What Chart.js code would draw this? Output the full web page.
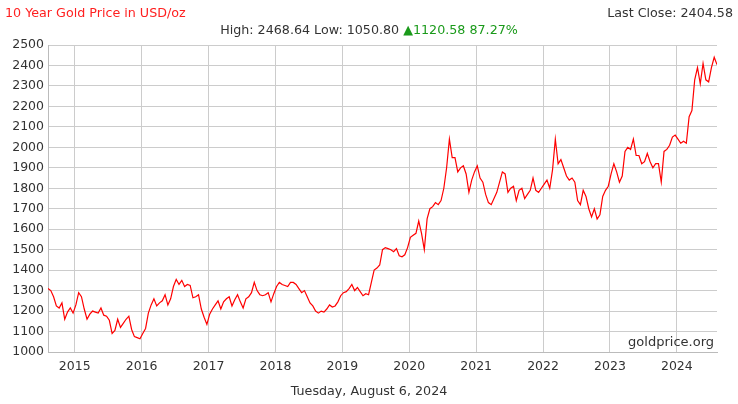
<!DOCTYPE html>
<html>
<head>
<meta charset="utf-8">
<script src="https://cdn.jsdelivr.net/npm/chart.js@4"></script>
<style>
  body { margin: 0; background: #fff; }
  #wrap { width: 738px; height: 404px; position: relative; }
</style>
</head>
<body>
<div id="wrap"><canvas id="c" width="738" height="404"></canvas></div>
<script>
// half-month closing prices, Aug 2014 .. Aug 2024
const prices = [
  1310, 1300, 1270, 1225, 1215, 1240, 1160, 1195, 1215, 1190,
  1230, 1290, 1270, 1210, 1160, 1185, 1200, 1195, 1190, 1215, 1180, 1175,
  1155, 1090, 1105, 1160, 1120, 1140, 1160, 1175, 1110, 1075, 1070, 1065,
  1090, 1115, 1190, 1230, 1260, 1225, 1240, 1250, 1280, 1230, 1260, 1320,
  1355, 1330, 1350, 1320, 1330, 1325, 1265, 1270, 1280, 1210, 1170, 1135,
  1185, 1210, 1230, 1250, 1210, 1245, 1260, 1270, 1225, 1255, 1280, 1245,
  1215, 1260, 1270, 1290, 1340, 1300, 1280, 1275, 1280, 1290, 1245, 1285,
  1320, 1340, 1330, 1325, 1320, 1340, 1340, 1330, 1310, 1290, 1300, 1270,
  1240, 1225, 1200, 1190, 1200, 1195, 1210, 1230, 1220, 1225, 1245, 1275,
  1290, 1295, 1310, 1330, 1300, 1315, 1295, 1275, 1285, 1280, 1340, 1400,
  1410, 1425, 1500, 1510, 1505, 1500, 1490, 1505, 1470, 1465, 1475, 1510,
  1560, 1570, 1580, 1640, 1580, 1500, 1650, 1700, 1710, 1730, 1720, 1740,
  1800, 1900, 2040, 1950, 1950, 1880, 1900, 1910, 1870, 1780, 1840, 1880,
  1910, 1850, 1830, 1770, 1730, 1720, 1750, 1780, 1830, 1880, 1870, 1780,
  1800, 1810, 1740, 1790, 1800, 1750, 1770, 1790, 1850, 1790, 1780, 1800,
  1820, 1840, 1800, 1890, 2040, 1920, 1940, 1900, 1860, 1840, 1850, 1830,
  1740, 1720, 1790, 1760, 1700, 1660, 1700, 1650, 1670, 1760, 1790, 1810,
  1870, 1920, 1880, 1830, 1860, 1980, 2000, 1990, 2040, 1960, 1960, 1920,
  1930, 1970, 1930, 1900, 1920, 1920, 1830, 1980, 1990, 2010, 2050, 2060,
  2040, 2020, 2030, 2020, 2150, 2180, 2330, 2390, 2310, 2410, 2330, 2320,
  2390, 2440, 2404
];
const startYear = 2014.6;
const yearTicks = [2015, 2016, 2017, 2018, 2019, 2020, 2021, 2022, 2023, 2024];
const title = '10 Year Gold Price in USD/oz';
const lastClose = 'Last Close: 2404.58';
const highLow = 'High: 2468.64 Low: 1050.80 ';
const change = '\u25B21120.58 87.27%';
const dateText = 'Tuesday, August 6, 2024';

const points = prices.map((p, i) => ({ x: startYear + i / 24, y: p }));
const font = 'DejaVu Sans';

const textPlugin = {
  id: 'texts',
  afterDraw(chart) {
    const ctx = chart.ctx;
    const a = chart.chartArea;
    ctx.save();
    ctx.font = '12.7px ' + font;
    ctx.textBaseline = 'middle';
    ctx.fillStyle = '#ff2020';
    ctx.textAlign = 'left';
    ctx.fillText(title, 5, 14);
    ctx.fillStyle = '#333';
    ctx.textAlign = 'right';
    ctx.fillText(lastClose, 733, 14);
    const w1 = ctx.measureText(highLow).width;
    const w2 = ctx.measureText(change).width;
    let x0 = 369 - (w1 + w2) / 2;
    ctx.textAlign = 'left';
    ctx.fillText(highLow, x0, 31);
    ctx.fillStyle = '#1a9a1a';
    ctx.fillText(change, x0 + w1, 31);
    ctx.fillStyle = '#333';
    ctx.textAlign = 'center';
    ctx.fillText(dateText, 369, 392);
    ctx.font = '13px ' + font;
    ctx.textAlign = 'right';
    ctx.fillText('goldprice.org', a.right - 3, a.bottom - 9);
    ctx.restore();
  }
};

new Chart(document.getElementById('c'), {
  type: 'line',
  data: { datasets: [{ data: points, borderColor: '#ff0000', borderWidth: 1.2, pointRadius: 0, tension: 0 }] },
  options: {
    responsive: false,
    animation: false,
    layout: { padding: { top: 45, right: 21, left: 0, bottom: 0 } },
    plugins: { legend: { display: false }, tooltip: { enabled: false } },
    scales: {
      x: {
        type: 'linear', min: 2014.6, max: 2024.6,
        afterBuildTicks(s) { s.ticks = yearTicks.map(v => ({ value: v })); },
        afterFit(s) { s.height = 52; },
        grid: { color: '#cccccc', drawTicks: false },
        border: { color: '#bbbbbb' },
        ticks: { color: '#333', font: { family: font, size: 12.5 }, padding: 7, callback: v => String(v) }
      },
      y: {
        min: 1000, max: 2500,
        afterFit(s) { s.width = 48; },
        grid: { color: '#cccccc', drawTicks: false },
        border: { color: '#bbbbbb' },
        ticks: { stepSize: 100, color: '#333', font: { family: font, size: 12.5 }, padding: 4, callback: v => String(v) }
      }
    }
  },
  plugins: [textPlugin]
});
</script>
</body>
</html>
